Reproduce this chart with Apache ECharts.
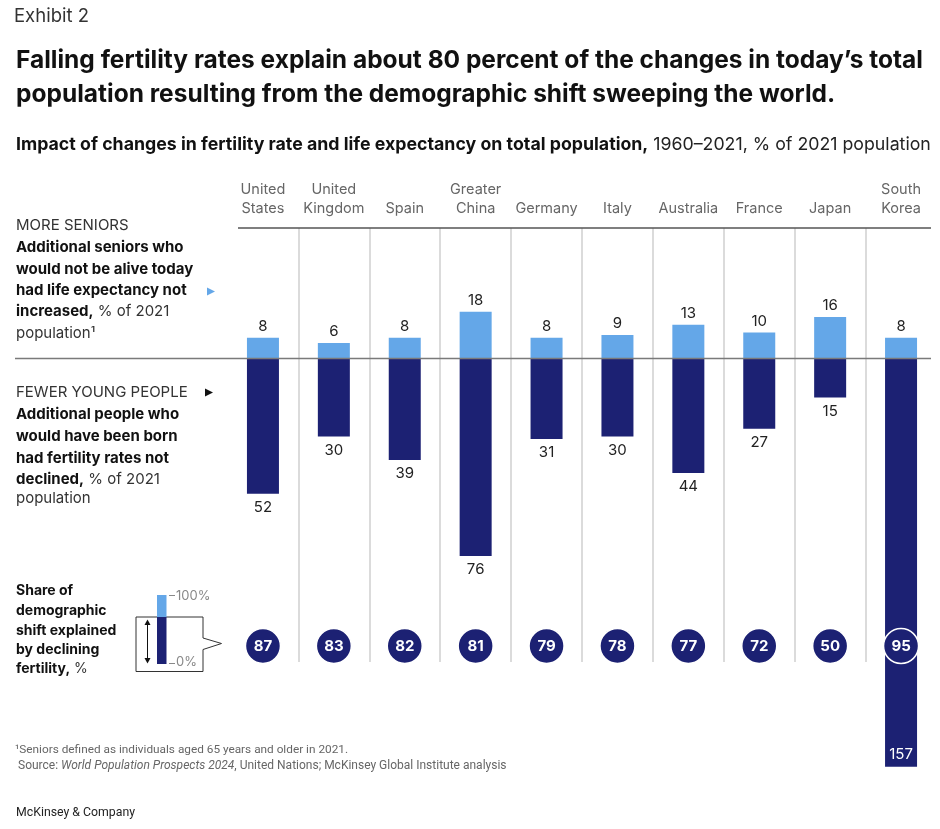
<!DOCTYPE html>
<html><head><meta charset="utf-8">
<script src="https://cdn.jsdelivr.net/npm/echarts@6/dist/echarts.min.js"></script>
<style>html,body{margin:0;padding:0;background:#fff}#c{width:940px;height:829px}</style>
</head><body><div id="c"></div>
<script>
// ---- data ----
const categories = ['United\nStates','United\nKingdom','Spain','Greater\nChina','Germany','Italy','Australia','France','Japan','South\nKorea'];
const moreSeniors = [8, 6, 8, 18, 8, 9, 13, 10, 16, 8];
const fewerYoung = [52, 30, 39, 76, 31, 30, 44, 27, 15, 157];
const fertilityShare = [87, 83, 82, 81, 79, 78, 77, 72, 50, 95];

// ---- style ----
const LIGHT = '#64a7e8', NAVY = '#1c2173';
const FF = 'Inter, Roboto, "Liberation Sans", sans-serif';
const FF2 = 'Roboto, "Liberation Sans", sans-serif';
const GL = 227.5, GR = 3.5;

const chart = echarts.init(document.getElementById('c'), null, {renderer: 'canvas'});

function txt(x, y, text, font, fill, extra) {
  return Object.assign({type: 'text', silent: true, style: Object.assign({
    x: x, y: y, text: text, font: font, fill: fill, align: 'left', verticalAlign: 'middle'
  }, extra || {})});
}
const B = (s) => 'bold ' + s + 'px ' + FF;
const R = (s) => s + 'px ' + FF;

const sepColors = ['rgba(0,0,0,0)'];
for (let i = 1; i < categories.length; i++) sepColors.push('#cfcfcf');
sepColors.push('rgba(0,0,0,0)');

const option = {
  backgroundColor: '#fff',
  animation: false,
  grid: [
    {left: GL, right: GR, top: 254.5, height: 520},
    {left: GL, right: GR, top: 228, height: 434},
    {left: GL, right: GR, top: 628, height: 36}
  ],
  xAxis: [
    {gridIndex: 0, type: 'category', data: categories, show: false},
    {gridIndex: 1, type: 'category', data: categories, position: 'top',
     axisLine: {show: false}, axisTick: {show: false},
     axisLabel: {interval: 0, color: '#666', fontFamily: FF, fontSize: 14.5, lineHeight: 19, margin: 10},
     splitLine: {show: true, interval: 0, lineStyle: {color: sepColors, width: 1.5}}},
    {gridIndex: 2, type: 'category', data: categories, show: false}
  ],
  yAxis: [
    {gridIndex: 0, type: 'value', min: -160, max: 40, show: false},
    {gridIndex: 1, type: 'value', min: 0, max: 1, show: false},
    {gridIndex: 2, type: 'category', data: ['share'], show: false}
  ],
  series: [
    {type: 'bar', name: 'More seniors', xAxisIndex: 0, yAxisIndex: 0, barWidth: 32,
     data: moreSeniors, itemStyle: {color: LIGHT}, z: 2,
     label: {show: true, position: 'top', distance: 4, color: '#222', fontFamily: FF, fontSize: 15}},
    {type: 'bar', name: 'Fewer young people', xAxisIndex: 0, yAxisIndex: 0, barWidth: 32, barGap: '-100%',
     itemStyle: {color: NAVY}, z: 2,
     data: fewerYoung.map(v => v > 100 ? {value: -v, label: {position: 'insideBottom', color: '#fff', distance: 5}} : -v),
     label: {show: true, position: 'bottom', distance: 6, color: '#222', fontFamily: FF, fontSize: 15,
             formatter: p => Math.abs(p.value)}},
    {type: 'scatter', name: 'Share explained by fertility', xAxisIndex: 2, yAxisIndex: 2, z: 5,
     symbol: 'circle', symbolSize: 35,
     itemStyle: {color: NAVY, borderColor: '#fff', borderWidth: 1.5, opacity: 1},
     data: fertilityShare.map((v, i) => [i, 'share', v]),
     label: {show: true, position: 'inside', color: '#fff', fontFamily: FF, fontWeight: 'bold', fontSize: 15,
             formatter: p => p.value[2]}}
  ]
};
chart.setOption(option);

const y0 = chart.convertToPixel({gridIndex: 0}, [0, 0])[1];

const g = [];
// header texts
g.push(txt(14, 16, 'Exhibit 2', R(18.5), '#333'));
g.push(txt(16, 61, 'Falling fertility rates explain about 80 percent of the changes in today\u2019s total', B(24.5), '#111'));
g.push(txt(16, 95, 'population resulting from the demographic shift sweeping the world.', B(24.5), '#111'));
g.push(txt(16, 145, '{b|Impact of changes in fertility rate and life expectancy on total population,}{r| 1960\u20132021, % of 2021 population}', B(17.75), '#111',
  {rich: {b: {font: B(17.75), fill: '#111'}, r: {font: R(17.75), fill: '#222'}}}));

// header line and zero line
g.push({type: 'line', silent: true, shape: {x1: 238, y1: 228, x2: 931, y2: 228}, style: {stroke: '#555', lineWidth: 1.5}});
g.push({type: 'line', silent: true, z: 10, shape: {x1: 15, y1: y0, x2: 931, y2: y0}, style: {stroke: '#7a7a7a', lineWidth: 1.5}});

// left panel: more seniors
const richLeft = {b: {font: B(15), fill: '#111'}, r: {font: R(15), fill: '#333'}};
g.push(txt(16, 225, 'MORE SENIORS', R(15), '#333'));
g.push(txt(16, 247.3, 'Additional seniors who', B(15), '#111'));
g.push(txt(16, 269, 'would not be alive today', B(15), '#111'));
g.push(txt(16, 290.7, 'had life expectancy not', B(15), '#111'));
g.push(txt(16, 311.7, '{b|increased,}{r| % of 2021}', B(15), '#111', {rich: richLeft}));
g.push(txt(16, 333, 'population\u00b9', R(15), '#333'));
g.push({type: 'polygon', silent: true, shape: {points: [[207, 287.5], [215, 291.5], [207, 295.5]]}, style: {fill: LIGHT}});

// left panel: fewer young
g.push(txt(16, 392.7, 'FEWER YOUNG PEOPLE', R(15), '#333'));
g.push({type: 'polygon', silent: true, shape: {points: [[205, 388.5], [213, 392.5], [205, 396.5]]}, style: {fill: '#111'}});
g.push(txt(16, 414.3, 'Additional people who', B(15), '#111'));
g.push(txt(16, 436.3, 'would have been born', B(15), '#111'));
g.push(txt(16, 458.3, 'had fertility rates not', B(15), '#111'));
g.push(txt(16, 479.5, '{b|declined,}{r| % of 2021}', B(15), '#111', {rich: richLeft}));
g.push(txt(16, 498.5, 'population', R(15), '#333'));

// left panel: share
g.push(txt(16, 590.7, 'Share of', B(14), '#111'));
g.push(txt(16, 610.5, 'demographic', B(14), '#111'));
g.push(txt(16, 630.5, 'shift explained', B(14), '#111'));
g.push(txt(16, 650, 'by declining', B(14), '#111'));
g.push(txt(16, 669, '{b|fertility,}{r| %}', B(14), '#111', {rich: {b: {font: B(14), fill: '#111'}, r: {font: R(14), fill: '#333'}}}));

// legend icon
g.push({type: 'polyline', silent: true, shape: {points: [[136, 617], [203, 617], [203, 638], [221.5, 643.5], [203, 649.5], [203, 671.5], [136, 671.5], [136, 617]]},
  style: {stroke: '#333', lineWidth: 1, fill: null}});
g.push({type: 'rect', silent: true, shape: {x: 157, y: 595, width: 9.5, height: 22}, style: {fill: LIGHT}});
g.push({type: 'rect', silent: true, shape: {x: 157, y: 617, width: 9.5, height: 47}, style: {fill: NAVY}});
g.push({type: 'line', silent: true, shape: {x1: 147.5, y1: 622, x2: 147.5, y2: 661}, style: {stroke: '#111', lineWidth: 1}});
g.push({type: 'polygon', silent: true, shape: {points: [[144.5, 625], [147.5, 619.5], [150.5, 625]]}, style: {fill: '#111'}});
g.push({type: 'polygon', silent: true, shape: {points: [[144.5, 658], [147.5, 663.5], [150.5, 658]]}, style: {fill: '#111'}});
g.push({type: 'line', silent: true, shape: {x1: 169, y1: 595.5, x2: 175, y2: 595.5}, style: {stroke: '#888', lineWidth: 1}});
g.push({type: 'line', silent: true, shape: {x1: 169, y1: 663.5, x2: 175, y2: 663.5}, style: {stroke: '#888', lineWidth: 1}});
g.push(txt(176, 596.5, '100%', R(13), '#888'));
g.push(txt(176, 662.5, '0%', R(13), '#888'));

// footnotes
const R2 = (s) => s + 'px ' + FF2;
g.push(txt(15, 750.5, '\u00b9Seniors defined as individuals aged 65 years and older in 2021.', R2(11.8), '#666'));
g.push(txt(18, 765.5, '{r|Source: }{i|World Population Prospects 2024}{r|, United Nations; McKinsey Global Institute analysis}', R2(12), '#666',
  {rich: {r: {font: R2(12), fill: '#666'}, i: {font: 'italic 12px ' + FF2, fill: '#666'}}}));
g.push(txt(16, 812.5, 'McKinsey & Company', R2(12.3), '#222'));

chart.setOption({graphic: {elements: g}});
</script>
</body></html>
